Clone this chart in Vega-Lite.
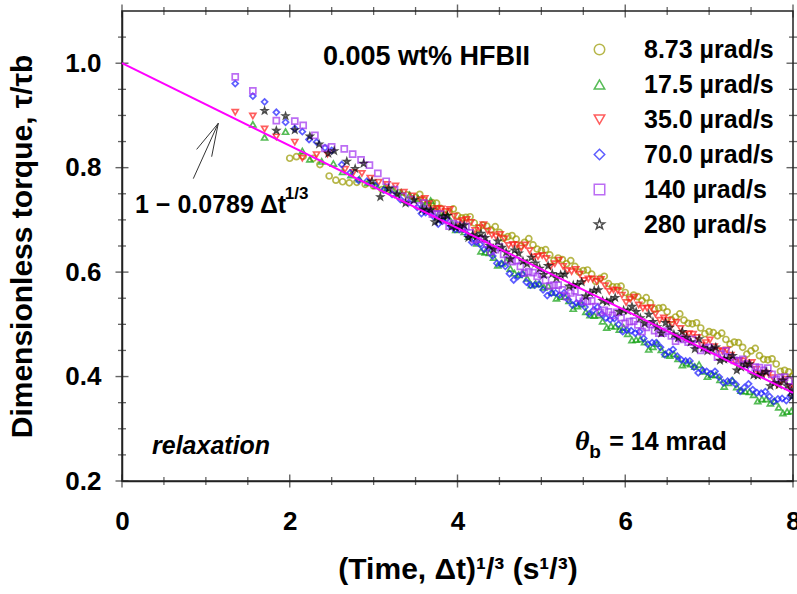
{
"$schema":"https://vega.github.io/schema/vega-lite/v6.json",
"width":671,"height":470,
"autosize":{"type":"none"},
"padding":{"left":122,"top":11,"right":4,"bottom":113},
"config":{"font":"Liberation Sans","view":{"stroke":"#222","strokeWidth":1.5},
 "axis":{"grid":false,"domainColor":"#222","domainWidth":1.5,"labelFont":"Liberation Sans","labelFontWeight":"bold","labelFontSize":26,"labelColor":"#000","titleFont":"Liberation Sans","titleFontWeight":"bold","titleFontSize":30,"titleColor":"#000"},
 "legend":{"labelFont":"Liberation Sans","labelFontWeight":"bold","labelFontSize":25,"labelColor":"#000"}},
"resolve":{"axis":{"x":"independent","y":"independent"}},
"layer":[
{"data":{"values":[
{"r":"8.73","x":2.0,"y":0.818},{"r":"8.73","x":2.08,"y":0.821},{"r":"8.73","x":2.16,"y":0.822},{"r":"8.73","x":2.28,"y":0.818},{"r":"8.73","x":2.36,"y":0.806},{"r":"8.73","x":2.47,"y":0.784},{"r":"8.73","x":2.55,"y":0.776},{"r":"8.73","x":2.63,"y":0.773},{"r":"8.73","x":2.71,"y":0.771},{"r":"8.73","x":2.8,"y":0.772},{"r":"8.73","x":2.9,"y":0.768},
{"r":"8.73","x":3.0,"y":0.765},{"r":"8.73","x":3.1,"y":0.758},{"r":"8.73","x":3.2,"y":0.757},{"r":"8.73","x":3.3,"y":0.752},{"r":"8.73","x":3.4,"y":0.748},{"r":"8.73","x":3.5,"y":0.743},{"r":"8.73","x":3.6,"y":0.738},{"r":"8.73","x":3.7,"y":0.733},{"r":"8.73","x":3.8,"y":0.722},{"r":"8.73","x":3.9,"y":0.716},
{"r":"8.73","x":4.0,"y":0.708},{"r":"8.73","x":4.1,"y":0.705},{"r":"8.73","x":4.2,"y":0.694},{"r":"8.73","x":4.3,"y":0.690},{"r":"8.73","x":4.4,"y":0.681},{"r":"8.73","x":4.5,"y":0.676},{"r":"8.73","x":4.6,"y":0.668},{"r":"8.73","x":4.7,"y":0.663},{"r":"8.73","x":4.8,"y":0.657},{"r":"8.73","x":4.9,"y":0.652},
{"r":"8.73","x":5.0,"y":0.641},{"r":"8.73","x":5.1,"y":0.633},{"r":"8.73","x":5.2,"y":0.627},{"r":"8.73","x":5.3,"y":0.616},{"r":"8.73","x":5.4,"y":0.611},{"r":"8.73","x":5.5,"y":0.603},{"r":"8.73","x":5.6,"y":0.596},{"r":"8.73","x":5.7,"y":0.588},{"r":"8.73","x":5.8,"y":0.578},{"r":"8.73","x":5.9,"y":0.572},
{"r":"8.73","x":6.0,"y":0.561},{"r":"8.73","x":6.1,"y":0.556},{"r":"8.73","x":6.2,"y":0.545},{"r":"8.73","x":6.3,"y":0.541},{"r":"8.73","x":6.4,"y":0.531},{"r":"8.73","x":6.5,"y":0.524},{"r":"8.73","x":6.6,"y":0.514},{"r":"8.73","x":6.7,"y":0.508},{"r":"8.73","x":6.8,"y":0.501},{"r":"8.73","x":6.9,"y":0.493},
{"r":"8.73","x":7.0,"y":0.486},{"r":"8.73","x":7.1,"y":0.478},{"r":"8.73","x":7.2,"y":0.471},{"r":"8.73","x":7.3,"y":0.466},{"r":"8.73","x":7.4,"y":0.456},{"r":"8.73","x":7.5,"y":0.449},{"r":"8.73","x":7.6,"y":0.440},{"r":"8.73","x":7.7,"y":0.432},{"r":"8.73","x":7.8,"y":0.424},{"r":"8.73","x":7.9,"y":0.412},{"r":"8.73","x":8.0,"y":0.401},
{"r":"8.73","x":3.55,"y":0.749},{"r":"8.73","x":3.65,"y":0.729},{"r":"8.73","x":3.75,"y":0.732},{"r":"8.73","x":3.85,"y":0.709},{"r":"8.73","x":3.95,"y":0.721},{"r":"8.73","x":4.05,"y":0.704},{"r":"8.73","x":4.15,"y":0.706},{"r":"8.73","x":4.25,"y":0.684},{"r":"8.73","x":4.35,"y":0.688},{"r":"8.73","x":4.45,"y":0.687},{"r":"8.73","x":4.55,"y":0.665},{"r":"8.73","x":4.65,"y":0.670},{"r":"8.73","x":4.75,"y":0.650},{"r":"8.73","x":4.85,"y":0.664},{"r":"8.73","x":4.95,"y":0.644},
{"r":"8.73","x":5.05,"y":0.643},{"r":"8.73","x":5.15,"y":0.622},{"r":"8.73","x":5.25,"y":0.624},{"r":"8.73","x":5.35,"y":0.622},{"r":"8.73","x":5.45,"y":0.600},{"r":"8.73","x":5.55,"y":0.604},{"r":"8.73","x":5.65,"y":0.582},{"r":"8.73","x":5.75,"y":0.592},{"r":"8.73","x":5.85,"y":0.572},{"r":"8.73","x":5.95,"y":0.573},
{"r":"8.73","x":6.05,"y":0.551},{"r":"8.73","x":6.15,"y":0.553},{"r":"8.73","x":6.25,"y":0.551},{"r":"8.73","x":6.35,"y":0.529},{"r":"8.73","x":6.45,"y":0.532},{"r":"8.73","x":6.55,"y":0.509},{"r":"8.73","x":6.65,"y":0.520},{"r":"8.73","x":6.75,"y":0.502},{"r":"8.73","x":6.85,"y":0.503},{"r":"8.73","x":6.95,"y":0.482},
{"r":"8.73","x":7.05,"y":0.484},{"r":"8.73","x":7.15,"y":0.483},{"r":"8.73","x":7.25,"y":0.462},{"r":"8.73","x":7.35,"y":0.465},{"r":"8.73","x":7.45,"y":0.443},{"r":"8.73","x":7.55,"y":0.454},{"r":"8.73","x":7.65,"y":0.433},{"r":"8.73","x":7.75,"y":0.434},{"r":"8.73","x":7.85,"y":0.410},{"r":"8.73","x":7.95,"y":0.409},
{"r":"17.5","x":1.56,"y":0.883},{"r":"17.5","x":1.70,"y":0.858},{"r":"17.5","x":1.95,"y":0.869},{"r":"17.5","x":2.15,"y":0.832},{"r":"17.5","x":2.24,"y":0.816},{"r":"17.5","x":2.38,"y":0.812},{"r":"17.5","x":2.52,"y":0.808},
{"r":"17.5","x":2.63,"y":0.792},{"r":"17.5","x":2.73,"y":0.786},{"r":"17.5","x":2.83,"y":0.778},{"r":"17.5","x":2.93,"y":0.771},{"r":"17.5","x":3.03,"y":0.766},{"r":"17.5","x":3.13,"y":0.762},{"r":"17.5","x":3.23,"y":0.758},{"r":"17.5","x":3.33,"y":0.753},{"r":"17.5","x":3.43,"y":0.748},{"r":"17.5","x":3.53,"y":0.741},{"r":"17.5","x":3.63,"y":0.733},{"r":"17.5","x":3.73,"y":0.722},{"r":"17.5","x":3.83,"y":0.708},{"r":"17.5","x":3.93,"y":0.695},
{"r":"17.5","x":4.03,"y":0.682},{"r":"17.5","x":4.13,"y":0.668},{"r":"17.5","x":4.23,"y":0.655},{"r":"17.5","x":4.33,"y":0.638},{"r":"17.5","x":4.43,"y":0.628},{"r":"17.5","x":4.53,"y":0.617},{"r":"17.5","x":4.63,"y":0.607},{"r":"17.5","x":4.73,"y":0.595},{"r":"17.5","x":4.83,"y":0.588},{"r":"17.5","x":4.93,"y":0.578},
{"r":"17.5","x":5.03,"y":0.571},{"r":"17.5","x":5.13,"y":0.561},{"r":"17.5","x":5.23,"y":0.553},{"r":"17.5","x":5.33,"y":0.545},{"r":"17.5","x":5.43,"y":0.535},{"r":"17.5","x":5.53,"y":0.524},{"r":"17.5","x":5.63,"y":0.517},{"r":"17.5","x":5.73,"y":0.506},{"r":"17.5","x":5.83,"y":0.497},{"r":"17.5","x":5.93,"y":0.490},
{"r":"17.5","x":6.03,"y":0.482},{"r":"17.5","x":6.13,"y":0.471},{"r":"17.5","x":6.23,"y":0.466},{"r":"17.5","x":6.33,"y":0.457},{"r":"17.5","x":6.43,"y":0.451},{"r":"17.5","x":6.53,"y":0.440},{"r":"17.5","x":6.63,"y":0.434},{"r":"17.5","x":6.73,"y":0.426},{"r":"17.5","x":6.83,"y":0.419},{"r":"17.5","x":6.93,"y":0.410},
{"r":"17.5","x":7.03,"y":0.404},{"r":"17.5","x":7.13,"y":0.394},{"r":"17.5","x":7.23,"y":0.388},{"r":"17.5","x":7.33,"y":0.380},{"r":"17.5","x":7.43,"y":0.372},{"r":"17.5","x":7.53,"y":0.365},{"r":"17.5","x":7.63,"y":0.357},{"r":"17.5","x":7.73,"y":0.349},{"r":"17.5","x":7.83,"y":0.341},{"r":"17.5","x":7.93,"y":0.333},
{"r":"17.5","x":3.58,"y":0.727},{"r":"17.5","x":3.68,"y":0.737},{"r":"17.5","x":3.78,"y":0.712},{"r":"17.5","x":3.88,"y":0.708},{"r":"17.5","x":3.98,"y":0.681},{"r":"17.5","x":4.08,"y":0.677},{"r":"17.5","x":4.18,"y":0.670},{"r":"17.5","x":4.28,"y":0.640},{"r":"17.5","x":4.38,"y":0.637},{"r":"17.5","x":4.48,"y":0.613},{"r":"17.5","x":4.58,"y":0.621},{"r":"17.5","x":4.68,"y":0.598},{"r":"17.5","x":4.78,"y":0.598},{"r":"17.5","x":4.88,"y":0.575},{"r":"17.5","x":4.98,"y":0.577},
{"r":"17.5","x":5.08,"y":0.574},{"r":"17.5","x":5.18,"y":0.550},{"r":"17.5","x":5.28,"y":0.553},{"r":"17.5","x":5.38,"y":0.530},{"r":"17.5","x":5.48,"y":0.539},{"r":"17.5","x":5.58,"y":0.518},{"r":"17.5","x":5.68,"y":0.518},{"r":"17.5","x":5.78,"y":0.494},{"r":"17.5","x":5.88,"y":0.496},{"r":"17.5","x":5.98,"y":0.494},
{"r":"17.5","x":6.08,"y":0.470},{"r":"17.5","x":6.18,"y":0.472},{"r":"17.5","x":6.28,"y":0.452},{"r":"17.5","x":6.38,"y":0.463},{"r":"17.5","x":6.48,"y":0.443},{"r":"17.5","x":6.58,"y":0.443},{"r":"17.5","x":6.68,"y":0.422},{"r":"17.5","x":6.78,"y":0.424},{"r":"17.5","x":6.88,"y":0.423},{"r":"17.5","x":6.98,"y":0.400},
{"r":"17.5","x":7.08,"y":0.403},{"r":"17.5","x":7.18,"y":0.381},{"r":"17.5","x":7.28,"y":0.393},{"r":"17.5","x":7.38,"y":0.373},{"r":"17.5","x":7.48,"y":0.371},{"r":"17.5","x":7.58,"y":0.353},{"r":"17.5","x":7.68,"y":0.357},{"r":"17.5","x":7.78,"y":0.353},{"r":"17.5","x":7.88,"y":0.330},{"r":"17.5","x":7.98,"y":0.334},
{"r":"35.0","x":1.35,"y":0.906},{"r":"35.0","x":1.56,"y":0.899},{"r":"35.0","x":1.70,"y":0.874},{"r":"35.0","x":1.84,"y":0.859},{"r":"35.0","x":2.06,"y":0.849},{"r":"35.0","x":2.15,"y":0.818},{"r":"35.0","x":2.32,"y":0.825},{"r":"35.0","x":2.45,"y":0.826},
{"r":"35.0","x":2.66,"y":0.797},{"r":"35.0","x":2.76,"y":0.791},{"r":"35.0","x":2.86,"y":0.789},{"r":"35.0","x":2.96,"y":0.780},{"r":"35.0","x":3.06,"y":0.772},{"r":"35.0","x":3.16,"y":0.768},{"r":"35.0","x":3.26,"y":0.765},{"r":"35.0","x":3.36,"y":0.753},{"r":"35.0","x":3.46,"y":0.746},{"r":"35.0","x":3.56,"y":0.738},{"r":"35.0","x":3.66,"y":0.731},{"r":"35.0","x":3.76,"y":0.722},{"r":"35.0","x":3.86,"y":0.716},{"r":"35.0","x":3.96,"y":0.707},
{"r":"35.0","x":4.06,"y":0.699},{"r":"35.0","x":4.16,"y":0.695},{"r":"35.0","x":4.26,"y":0.685},{"r":"35.0","x":4.36,"y":0.679},{"r":"35.0","x":4.46,"y":0.668},{"r":"35.0","x":4.56,"y":0.664},{"r":"35.0","x":4.66,"y":0.653},{"r":"35.0","x":4.76,"y":0.646},{"r":"35.0","x":4.86,"y":0.641},{"r":"35.0","x":4.96,"y":0.630},
{"r":"35.0","x":5.06,"y":0.626},{"r":"35.0","x":5.16,"y":0.616},{"r":"35.0","x":5.26,"y":0.611},{"r":"35.0","x":5.36,"y":0.601},{"r":"35.0","x":5.46,"y":0.596},{"r":"35.0","x":5.56,"y":0.587},{"r":"35.0","x":5.66,"y":0.582},{"r":"35.0","x":5.76,"y":0.574},{"r":"35.0","x":5.86,"y":0.566},{"r":"35.0","x":5.96,"y":0.556},
{"r":"35.0","x":6.06,"y":0.548},{"r":"35.0","x":6.16,"y":0.537},{"r":"35.0","x":6.26,"y":0.531},{"r":"35.0","x":6.36,"y":0.520},{"r":"35.0","x":6.46,"y":0.512},{"r":"35.0","x":6.56,"y":0.500},{"r":"35.0","x":6.66,"y":0.492},{"r":"35.0","x":6.76,"y":0.482},{"r":"35.0","x":6.86,"y":0.475},{"r":"35.0","x":6.96,"y":0.465},
{"r":"35.0","x":7.06,"y":0.457},{"r":"35.0","x":7.16,"y":0.448},{"r":"35.0","x":7.26,"y":0.441},{"r":"35.0","x":7.36,"y":0.431},{"r":"35.0","x":7.46,"y":0.424},{"r":"35.0","x":7.56,"y":0.414},{"r":"35.0","x":7.66,"y":0.407},{"r":"35.0","x":7.76,"y":0.398},{"r":"35.0","x":7.86,"y":0.390},{"r":"35.0","x":7.96,"y":0.381},
{"r":"35.0","x":3.61,"y":0.741},{"r":"35.0","x":3.71,"y":0.719},{"r":"35.0","x":3.81,"y":0.721},{"r":"35.0","x":3.91,"y":0.720},{"r":"35.0","x":4.01,"y":0.696},{"r":"35.0","x":4.11,"y":0.701},{"r":"35.0","x":4.21,"y":0.680},{"r":"35.0","x":4.31,"y":0.691},{"r":"35.0","x":4.41,"y":0.671},{"r":"35.0","x":4.51,"y":0.672},{"r":"35.0","x":4.61,"y":0.651},{"r":"35.0","x":4.71,"y":0.652},{"r":"35.0","x":4.81,"y":0.652},{"r":"35.0","x":4.91,"y":0.629},{"r":"35.0","x":5.01,"y":0.632},
{"r":"35.0","x":5.11,"y":0.611},{"r":"35.0","x":5.21,"y":0.623},{"r":"35.0","x":5.31,"y":0.603},{"r":"35.0","x":5.41,"y":0.605},{"r":"35.0","x":5.51,"y":0.584},{"r":"35.0","x":5.61,"y":0.587},{"r":"35.0","x":5.71,"y":0.586},{"r":"35.0","x":5.81,"y":0.563},{"r":"35.0","x":5.91,"y":0.565},{"r":"35.0","x":6.01,"y":0.542},
{"r":"35.0","x":6.11,"y":0.552},{"r":"35.0","x":6.21,"y":0.531},{"r":"35.0","x":6.31,"y":0.532},{"r":"35.0","x":6.41,"y":0.508},{"r":"35.0","x":6.51,"y":0.508},{"r":"35.0","x":6.61,"y":0.504},{"r":"35.0","x":6.71,"y":0.480},{"r":"35.0","x":6.81,"y":0.481},{"r":"35.0","x":6.91,"y":0.460},{"r":"35.0","x":7.01,"y":0.470},
{"r":"35.0","x":7.11,"y":0.450},{"r":"35.0","x":7.21,"y":0.451},{"r":"35.0","x":7.31,"y":0.428},{"r":"35.0","x":7.41,"y":0.430},{"r":"35.0","x":7.51,"y":0.427},{"r":"35.0","x":7.61,"y":0.404},{"r":"35.0","x":7.71,"y":0.405},{"r":"35.0","x":7.81,"y":0.384},{"r":"35.0","x":7.91,"y":0.395},{"r":"35.0","x":7.99,"y":0.375},
{"r":"70.0","x":1.35,"y":0.961},{"r":"70.0","x":1.56,"y":0.937},{"r":"70.0","x":1.70,"y":0.926},{"r":"70.0","x":1.84,"y":0.906},{"r":"70.0","x":1.95,"y":0.887},{"r":"70.0","x":2.06,"y":0.875},{"r":"70.0","x":2.15,"y":0.869},{"r":"70.0","x":2.23,"y":0.854},{"r":"70.0","x":2.32,"y":0.849},{"r":"70.0","x":2.42,"y":0.838},{"r":"70.0","x":2.5,"y":0.833},
{"r":"70.0","x":2.62,"y":0.806},{"r":"70.0","x":2.72,"y":0.790},{"r":"70.0","x":2.82,"y":0.776},{"r":"70.0","x":2.92,"y":0.774},{"r":"70.0","x":3.02,"y":0.766},{"r":"70.0","x":3.12,"y":0.757},{"r":"70.0","x":3.22,"y":0.749},{"r":"70.0","x":3.32,"y":0.739},{"r":"70.0","x":3.42,"y":0.733},{"r":"70.0","x":3.52,"y":0.724},{"r":"70.0","x":3.62,"y":0.714},{"r":"70.0","x":3.72,"y":0.706},{"r":"70.0","x":3.82,"y":0.698},{"r":"70.0","x":3.92,"y":0.688},
{"r":"70.0","x":4.02,"y":0.682},{"r":"70.0","x":4.12,"y":0.671},{"r":"70.0","x":4.22,"y":0.658},{"r":"70.0","x":4.32,"y":0.644},{"r":"70.0","x":4.42,"y":0.631},{"r":"70.0","x":4.52,"y":0.616},{"r":"70.0","x":4.62,"y":0.597},{"r":"70.0","x":4.72,"y":0.592},{"r":"70.0","x":4.82,"y":0.581},{"r":"70.0","x":4.92,"y":0.575},
{"r":"70.0","x":5.02,"y":0.566},{"r":"70.0","x":5.12,"y":0.560},{"r":"70.0","x":5.22,"y":0.556},{"r":"70.0","x":5.32,"y":0.547},{"r":"70.0","x":5.42,"y":0.541},{"r":"70.0","x":5.52,"y":0.533},{"r":"70.0","x":5.62,"y":0.527},{"r":"70.0","x":5.72,"y":0.520},{"r":"70.0","x":5.82,"y":0.509},{"r":"70.0","x":5.92,"y":0.500},
{"r":"70.0","x":6.02,"y":0.489},{"r":"70.0","x":6.12,"y":0.483},{"r":"70.0","x":6.22,"y":0.473},{"r":"70.0","x":6.32,"y":0.465},{"r":"70.0","x":6.42,"y":0.456},{"r":"70.0","x":6.52,"y":0.447},{"r":"70.0","x":6.62,"y":0.439},{"r":"70.0","x":6.72,"y":0.430},{"r":"70.0","x":6.82,"y":0.418},{"r":"70.0","x":6.92,"y":0.412},
{"r":"70.0","x":7.02,"y":0.405},{"r":"70.0","x":7.12,"y":0.399},{"r":"70.0","x":7.22,"y":0.391},{"r":"70.0","x":7.32,"y":0.385},{"r":"70.0","x":7.42,"y":0.379},{"r":"70.0","x":7.52,"y":0.375},{"r":"70.0","x":7.62,"y":0.368},{"r":"70.0","x":7.72,"y":0.362},{"r":"70.0","x":7.82,"y":0.357},{"r":"70.0","x":7.92,"y":0.354},
{"r":"70.0","x":3.57,"y":0.712},{"r":"70.0","x":3.67,"y":0.714},{"r":"70.0","x":3.77,"y":0.692},{"r":"70.0","x":3.87,"y":0.702},{"r":"70.0","x":3.97,"y":0.682},{"r":"70.0","x":4.07,"y":0.683},{"r":"70.0","x":4.17,"y":0.657},{"r":"70.0","x":4.27,"y":0.653},{"r":"70.0","x":4.37,"y":0.646},{"r":"70.0","x":4.47,"y":0.617},{"r":"70.0","x":4.57,"y":0.611},{"r":"70.0","x":4.67,"y":0.585},{"r":"70.0","x":4.77,"y":0.596},{"r":"70.0","x":4.87,"y":0.575},{"r":"70.0","x":4.97,"y":0.577},
{"r":"70.0","x":5.07,"y":0.555},{"r":"70.0","x":5.17,"y":0.560},{"r":"70.0","x":5.27,"y":0.560},{"r":"70.0","x":5.37,"y":0.537},{"r":"70.0","x":5.47,"y":0.541},{"r":"70.0","x":5.57,"y":0.520},{"r":"70.0","x":5.67,"y":0.533},{"r":"70.0","x":5.77,"y":0.512},{"r":"70.0","x":5.87,"y":0.511},{"r":"70.0","x":5.97,"y":0.486},
{"r":"70.0","x":6.07,"y":0.488},{"r":"70.0","x":6.17,"y":0.486},{"r":"70.0","x":6.27,"y":0.462},{"r":"70.0","x":6.37,"y":0.465},{"r":"70.0","x":6.47,"y":0.442},{"r":"70.0","x":6.57,"y":0.452},{"r":"70.0","x":6.67,"y":0.432},{"r":"70.0","x":6.77,"y":0.430},{"r":"70.0","x":6.87,"y":0.407},{"r":"70.0","x":6.97,"y":0.410},
{"r":"70.0","x":7.07,"y":0.410},{"r":"70.0","x":7.17,"y":0.388},{"r":"70.0","x":7.27,"y":0.392},{"r":"70.0","x":7.37,"y":0.372},{"r":"70.0","x":7.47,"y":0.386},{"r":"70.0","x":7.57,"y":0.369},{"r":"70.0","x":7.67,"y":0.371},{"r":"70.0","x":7.77,"y":0.352},{"r":"70.0","x":7.87,"y":0.358},{"r":"70.0","x":7.97,"y":0.363},
{"r":"140","x":1.35,"y":0.974},{"r":"140","x":1.56,"y":0.947},{"r":"140","x":1.84,"y":0.890},{"r":"140","x":2.06,"y":0.889},{"r":"140","x":2.16,"y":0.881},{"r":"140","x":2.3,"y":0.862},{"r":"140","x":2.42,"y":0.837},{"r":"140","x":2.5,"y":0.840},
{"r":"140","x":2.65,"y":0.836},{"r":"140","x":2.75,"y":0.826},{"r":"140","x":2.85,"y":0.815},{"r":"140","x":2.95,"y":0.805},{"r":"140","x":3.05,"y":0.789},{"r":"140","x":3.15,"y":0.774},{"r":"140","x":3.25,"y":0.758},{"r":"140","x":3.35,"y":0.745},{"r":"140","x":3.45,"y":0.739},{"r":"140","x":3.55,"y":0.727},{"r":"140","x":3.65,"y":0.718},{"r":"140","x":3.75,"y":0.711},{"r":"140","x":3.85,"y":0.699},{"r":"140","x":3.95,"y":0.693},
{"r":"140","x":4.05,"y":0.683},{"r":"140","x":4.15,"y":0.675},{"r":"140","x":4.25,"y":0.663},{"r":"140","x":4.35,"y":0.654},{"r":"140","x":4.45,"y":0.643},{"r":"140","x":4.55,"y":0.634},{"r":"140","x":4.65,"y":0.620},{"r":"140","x":4.75,"y":0.611},{"r":"140","x":4.85,"y":0.601},{"r":"140","x":4.95,"y":0.592},
{"r":"140","x":5.05,"y":0.584},{"r":"140","x":5.15,"y":0.575},{"r":"140","x":5.25,"y":0.566},{"r":"140","x":5.35,"y":0.560},{"r":"140","x":5.45,"y":0.550},{"r":"140","x":5.55,"y":0.544},{"r":"140","x":5.65,"y":0.534},{"r":"140","x":5.75,"y":0.527},{"r":"140","x":5.85,"y":0.517},{"r":"140","x":5.95,"y":0.513},
{"r":"140","x":6.05,"y":0.505},{"r":"140","x":6.15,"y":0.499},{"r":"140","x":6.25,"y":0.494},{"r":"140","x":6.35,"y":0.488},{"r":"140","x":6.45,"y":0.483},{"r":"140","x":6.55,"y":0.478},{"r":"140","x":6.65,"y":0.473},{"r":"140","x":6.75,"y":0.466},{"r":"140","x":6.85,"y":0.461},{"r":"140","x":6.95,"y":0.454},
{"r":"140","x":7.05,"y":0.450},{"r":"140","x":7.15,"y":0.443},{"r":"140","x":7.25,"y":0.437},{"r":"140","x":7.35,"y":0.430},{"r":"140","x":7.45,"y":0.424},{"r":"140","x":7.55,"y":0.418},{"r":"140","x":7.65,"y":0.412},{"r":"140","x":7.75,"y":0.404},{"r":"140","x":7.85,"y":0.398},{"r":"140","x":7.95,"y":0.392},
{"r":"140","x":3.6,"y":0.732},{"r":"140","x":3.7,"y":0.711},{"r":"140","x":3.8,"y":0.711},{"r":"140","x":3.9,"y":0.688},{"r":"140","x":4.0,"y":0.690},{"r":"140","x":4.1,"y":0.687},{"r":"140","x":4.2,"y":0.662},{"r":"140","x":4.3,"y":0.663},{"r":"140","x":4.4,"y":0.639},{"r":"140","x":4.5,"y":0.648},{"r":"140","x":4.6,"y":0.624},{"r":"140","x":4.7,"y":0.622},{"r":"140","x":4.8,"y":0.598},{"r":"140","x":4.9,"y":0.599},{"r":"140","x":5.0,"y":0.596},
{"r":"140","x":5.1,"y":0.573},{"r":"140","x":5.2,"y":0.575},{"r":"140","x":5.3,"y":0.553},{"r":"140","x":5.4,"y":0.564},{"r":"140","x":5.5,"y":0.544},{"r":"140","x":5.6,"y":0.545},{"r":"140","x":5.7,"y":0.523},{"r":"140","x":5.8,"y":0.524},{"r":"140","x":5.9,"y":0.523},{"r":"140","x":6.0,"y":0.502},
{"r":"140","x":6.1,"y":0.506},{"r":"140","x":6.2,"y":0.486},{"r":"140","x":6.3,"y":0.500},{"r":"140","x":6.4,"y":0.483},{"r":"140","x":6.5,"y":0.487},{"r":"140","x":6.6,"y":0.468},{"r":"140","x":6.7,"y":0.471},{"r":"140","x":6.8,"y":0.471},{"r":"140","x":6.9,"y":0.450},{"r":"140","x":7.0,"y":0.456},
{"r":"140","x":7.1,"y":0.437},{"r":"140","x":7.2,"y":0.449},{"r":"140","x":7.3,"y":0.431},{"r":"140","x":7.4,"y":0.433},{"r":"140","x":7.5,"y":0.413},{"r":"140","x":7.6,"y":0.417},{"r":"140","x":7.7,"y":0.416},{"r":"140","x":7.8,"y":0.394},{"r":"140","x":7.9,"y":0.399},{"r":"140","x":8.0,"y":0.380},
{"r":"280","x":1.70,"y":0.909},{"r":"280","x":1.84,"y":0.871},{"r":"280","x":1.95,"y":0.899},{"r":"280","x":2.06,"y":0.872},{"r":"280","x":2.24,"y":0.860},{"r":"280","x":2.35,"y":0.845},{"r":"280","x":2.46,"y":0.827},{"r":"280","x":2.53,"y":0.832},
{"r":"280","x":2.68,"y":0.812},{"r":"280","x":2.78,"y":0.798},{"r":"280","x":2.88,"y":0.808},{"r":"280","x":2.98,"y":0.774},{"r":"280","x":3.08,"y":0.744},{"r":"280","x":3.18,"y":0.760},{"r":"280","x":3.28,"y":0.749},{"r":"280","x":3.38,"y":0.732},{"r":"280","x":3.48,"y":0.738},{"r":"280","x":3.58,"y":0.720},{"r":"280","x":3.68,"y":0.719},{"r":"280","x":3.78,"y":0.700},{"r":"280","x":3.88,"y":0.708},{"r":"280","x":3.98,"y":0.686},
{"r":"280","x":4.08,"y":0.690},{"r":"280","x":4.18,"y":0.671},{"r":"280","x":4.28,"y":0.674},{"r":"280","x":4.38,"y":0.651},{"r":"280","x":4.48,"y":0.659},{"r":"280","x":4.58,"y":0.638},{"r":"280","x":4.68,"y":0.642},{"r":"280","x":4.78,"y":0.621},{"r":"280","x":4.88,"y":0.628},{"r":"280","x":4.98,"y":0.607},
{"r":"280","x":5.08,"y":0.612},{"r":"280","x":5.18,"y":0.589},{"r":"280","x":5.28,"y":0.596},{"r":"280","x":5.38,"y":0.575},{"r":"280","x":5.48,"y":0.581},{"r":"280","x":5.58,"y":0.560},{"r":"280","x":5.68,"y":0.566},{"r":"280","x":5.78,"y":0.543},{"r":"280","x":5.88,"y":0.551},{"r":"280","x":5.98,"y":0.527},
{"r":"280","x":6.08,"y":0.534},{"r":"280","x":6.18,"y":0.512},{"r":"280","x":6.28,"y":0.519},{"r":"280","x":6.38,"y":0.495},{"r":"280","x":6.48,"y":0.503},{"r":"280","x":6.58,"y":0.481},{"r":"280","x":6.68,"y":0.486},{"r":"280","x":6.78,"y":0.466},{"r":"280","x":6.88,"y":0.472},{"r":"280","x":6.98,"y":0.449},
{"r":"280","x":7.08,"y":0.456},{"r":"280","x":7.18,"y":0.433},{"r":"280","x":7.28,"y":0.440},{"r":"280","x":7.38,"y":0.418},{"r":"280","x":7.48,"y":0.424},{"r":"280","x":7.58,"y":0.402},{"r":"280","x":7.68,"y":0.409},{"r":"280","x":7.78,"y":0.388},{"r":"280","x":7.88,"y":0.393},{"r":"280","x":7.98,"y":0.372},
{"r":"280","x":3.63,"y":0.718},{"r":"280","x":3.73,"y":0.696},{"r":"280","x":3.83,"y":0.707},{"r":"280","x":3.93,"y":0.687},{"r":"280","x":4.03,"y":0.688},{"r":"280","x":4.13,"y":0.666},{"r":"280","x":4.23,"y":0.668},{"r":"280","x":4.33,"y":0.666},{"r":"280","x":4.43,"y":0.644},{"r":"280","x":4.53,"y":0.647},{"r":"280","x":4.63,"y":0.625},{"r":"280","x":4.73,"y":0.636},{"r":"280","x":4.83,"y":0.616},{"r":"280","x":4.93,"y":0.617},{"r":"280","x":5.03,"y":0.595},
{"r":"280","x":5.13,"y":0.597},{"r":"280","x":5.23,"y":0.595},{"r":"280","x":5.33,"y":0.573},{"r":"280","x":5.43,"y":0.576},{"r":"280","x":5.53,"y":0.554},{"r":"280","x":5.63,"y":0.565},{"r":"280","x":5.73,"y":0.545},{"r":"280","x":5.83,"y":0.546},{"r":"280","x":5.93,"y":0.524},{"r":"280","x":6.03,"y":0.526},
{"r":"280","x":6.13,"y":0.524},{"r":"280","x":6.23,"y":0.502},{"r":"280","x":6.33,"y":0.505},{"r":"280","x":6.43,"y":0.483},{"r":"280","x":6.53,"y":0.494},{"r":"280","x":6.63,"y":0.474},{"r":"280","x":6.73,"y":0.475},{"r":"280","x":6.83,"y":0.453},{"r":"280","x":6.93,"y":0.455},{"r":"280","x":7.03,"y":0.453},
{"r":"280","x":7.13,"y":0.431},{"r":"280","x":7.23,"y":0.434},{"r":"280","x":7.33,"y":0.412},{"r":"280","x":7.43,"y":0.423},{"r":"280","x":7.53,"y":0.403},{"r":"280","x":7.63,"y":0.404},{"r":"280","x":7.73,"y":0.382},{"r":"280","x":7.83,"y":0.384},{"r":"280","x":7.93,"y":0.382},{"r":"280","x":7.99,"y":0.362}
]},
 "mark":{"type":"point","filled":false,"size":36,"strokeWidth":1.7,"clip":true},
 "encoding":{
  "x":{"field":"x","type":"quantitative","scale":{"domain":[0,8],"nice":false,"zero":false},
   "axis":{"orient":"bottom","ticks":false,"values":[0,2,4,6,8],"format":"d","labelPadding":27,"labelFlush":false,"title":"(Time, Δt)¹/³ (s¹/³)","titlePadding":20}},
  "y":{"field":"y","type":"quantitative","scale":{"domain":[0.2,1.1],"nice":false,"zero":false},
   "axis":{"orient":"left","ticks":false,"values":[0.2,0.4,0.6,0.8,1.0],"format":".1f","labelPadding":21,"labelFlush":false,"title":"Dimensionless torque, τ/τb","titlePadding":27}},
  "color":{"field":"r","type":"nominal","scale":{"domain":["8.73","17.5","35.0","70.0","140","280"],"range":["#9A9A00","#10A010","#FF1A1A","#1A1AFF","#A030F0","#000000"]},
   "legend":{"title":null,"orient":"none","legendX":465,"legendY":26,"labelExpr":"datum.label + ' µrad/s'","symbolSize":110,"symbolStrokeWidth":1.5,"labelOffset":32,"rowPadding":9,"padding":0}},
  "shape":{"field":"r","type":"nominal","scale":{"domain":["8.73","17.5","35.0","70.0","140","280"],"range":["circle","triangle-up","triangle-down","diamond","square","M0,-1L0.235,-0.324L0.951,-0.309L0.38,0.124L0.588,0.809L0,0.4L-0.588,0.809L-0.38,0.124L-0.951,-0.309L-0.235,-0.324Z"]},
   "legend":{"title":null,"orient":"none","legendX":465,"legendY":26,"labelExpr":"datum.label + ' µrad/s'","symbolSize":110,"symbolStrokeWidth":1.5,"labelOffset":32,"rowPadding":9,"padding":0}}
 }},
{"data":{"values":[{"x":0,"y":0.2},{"x":2,"y":0.2},{"x":4,"y":0.2},{"x":6,"y":0.2},{"x":8,"y":0.2},{"x":0,"y":1.1},{"x":2,"y":1.1},{"x":4,"y":1.1},{"x":6,"y":1.1},{"x":8,"y":1.1}]},
 "mark":{"type":"tick","orient":"vertical","size":13,"thickness":1.4,"color":"#222","clip":false},
 "encoding":{"x":{"field":"x","type":"quantitative","axis":null},"y":{"field":"y","type":"quantitative","axis":null}}},
{"data":{"values":[{"x":0.5,"y":0.2},{"x":1,"y":0.2},{"x":1.5,"y":0.2},{"x":2.5,"y":0.2},{"x":3,"y":0.2},{"x":3.5,"y":0.2},{"x":4.5,"y":0.2},{"x":5,"y":0.2},{"x":5.5,"y":0.2},{"x":6.5,"y":0.2},{"x":7,"y":0.2},{"x":7.5,"y":0.2},
 {"x":0.5,"y":1.1},{"x":1,"y":1.1},{"x":1.5,"y":1.1},{"x":2.5,"y":1.1},{"x":3,"y":1.1},{"x":3.5,"y":1.1},{"x":4.5,"y":1.1},{"x":5,"y":1.1},{"x":5.5,"y":1.1},{"x":6.5,"y":1.1},{"x":7,"y":1.1},{"x":7.5,"y":1.1}]},
 "mark":{"type":"tick","orient":"vertical","size":8,"thickness":1.3,"color":"#222","clip":false},
 "encoding":{"x":{"field":"x","type":"quantitative","axis":null},"y":{"field":"y","type":"quantitative","axis":null}}},
{"data":{"values":[{"x":0,"y":0.2},{"x":0,"y":0.4},{"x":0,"y":0.6},{"x":0,"y":0.8},{"x":0,"y":1.0},{"x":8,"y":0.2},{"x":8,"y":0.4},{"x":8,"y":0.6},{"x":8,"y":0.8},{"x":8,"y":1.0}]},
 "mark":{"type":"tick","orient":"horizontal","size":13,"thickness":1.4,"color":"#222","clip":false},
 "encoding":{"x":{"field":"x","type":"quantitative","axis":null},"y":{"field":"y","type":"quantitative","axis":null}}},
{"data":{"values":[{"x":0,"y":0.25},{"x":0,"y":0.3},{"x":0,"y":0.35},{"x":0,"y":0.45},{"x":0,"y":0.5},{"x":0,"y":0.55},{"x":0,"y":0.65},{"x":0,"y":0.7},{"x":0,"y":0.75},{"x":0,"y":0.85},{"x":0,"y":0.9},{"x":0,"y":0.95},{"x":0,"y":1.05},
 {"x":8,"y":0.25},{"x":8,"y":0.3},{"x":8,"y":0.35},{"x":8,"y":0.45},{"x":8,"y":0.5},{"x":8,"y":0.55},{"x":8,"y":0.65},{"x":8,"y":0.7},{"x":8,"y":0.75},{"x":8,"y":0.85},{"x":8,"y":0.9},{"x":8,"y":0.95},{"x":8,"y":1.05}]},
 "mark":{"type":"tick","orient":"horizontal","size":8,"thickness":1.3,"color":"#222","clip":false},
 "encoding":{"x":{"field":"x","type":"quantitative","axis":null},"y":{"field":"y","type":"quantitative","axis":null}}},
{"data":{"values":[{"x":0,"y":1.0},{"x":8,"y":0.3688}]},
 "mark":{"type":"line","color":"#FF00FF","strokeWidth":2},
 "encoding":{"x":{"field":"x","type":"quantitative","axis":null},"y":{"field":"y","type":"quantitative","axis":null}}},
{"data":{"values":[{"x":0.85,"y":0.779,"x2":1.148,"y2":0.885},{"x":0.89,"y":0.835,"x2":1.148,"y2":0.885},{"x":1.069,"y":0.821,"x2":1.148,"y2":0.885}]},
 "mark":{"type":"rule","color":"#333","strokeWidth":1},
 "encoding":{"x":{"field":"x","type":"quantitative","axis":null},"y":{"field":"y","type":"quantitative","axis":null},"x2":{"field":"x2"},"y2":{"field":"y2"}}},
{"data":{"values":[{}]},
 "mark":{"type":"text","text":"0.005 wt% HFBII","fontSize":27,"fontWeight":"bold","align":"left","baseline":"alphabetic"},
 "encoding":{"x":{"datum":2.396,"type":"quantitative","axis":null},"y":{"datum":0.996,"type":"quantitative","axis":null}}},
{"data":{"values":[{}]},
 "mark":{"type":"text","text":"1 − 0.0789 Δt","fontSize":25,"fontWeight":"bold","align":"left","baseline":"alphabetic"},
 "encoding":{"x":{"datum":0.155,"type":"quantitative","axis":null},"y":{"datum":0.713,"type":"quantitative","axis":null}}},
{"data":{"values":[{}]},
 "mark":{"type":"text","text":"1/3","fontSize":17,"fontWeight":"bold","align":"left","baseline":"alphabetic"},
 "encoding":{"x":{"datum":1.94,"type":"quantitative","axis":null},"y":{"datum":0.740,"type":"quantitative","axis":null}}},
{"data":{"values":[{}]},
 "mark":{"type":"text","text":"relaxation","fontSize":25,"fontWeight":"bold","fontStyle":"italic","align":"left","baseline":"alphabetic"},
 "encoding":{"x":{"datum":0.358,"type":"quantitative","axis":null},"y":{"datum":0.252,"type":"quantitative","axis":null}}},
{"data":{"values":[{}]},
 "mark":{"type":"text","text":"θ","font":"Liberation Serif","fontSize":28,"fontWeight":"bold","fontStyle":"italic","align":"left","baseline":"alphabetic"},
 "encoding":{"x":{"datum":5.40,"type":"quantitative","axis":null},"y":{"datum":0.259,"type":"quantitative","axis":null}}},
{"data":{"values":[{}]},
 "mark":{"type":"text","text":"b","fontSize":19,"fontWeight":"bold","align":"left","baseline":"alphabetic"},
 "encoding":{"x":{"datum":5.57,"type":"quantitative","axis":null},"y":{"datum":0.244,"type":"quantitative","axis":null}}},
{"data":{"values":[{}]},
 "mark":{"type":"text","text":"= 14 mrad","fontSize":25,"fontWeight":"bold","align":"left","baseline":"alphabetic"},
 "encoding":{"x":{"datum":5.81,"type":"quantitative","axis":null},"y":{"datum":0.259,"type":"quantitative","axis":null}}}
]
}
